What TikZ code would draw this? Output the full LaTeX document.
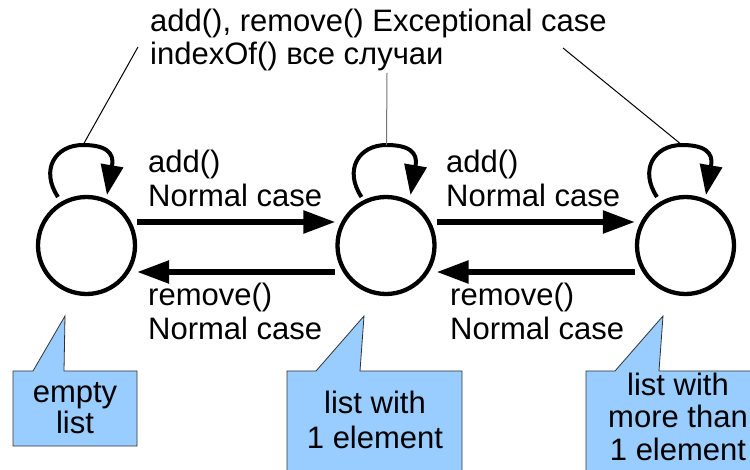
\documentclass[tikz,border=0pt]{standalone}
\usepackage{fontspec}
\setmainfont{Liberation Sans}
\usetikzlibrary{arrows.meta}
\definecolor{callblue}{HTML}{99CCFF}
\newcommand\selfloop[3]{%
  \draw[loopline] ([shift={(-28.5+#2,48.5)}]#1.center)
    .. controls +(-18,27) and +(-28,0) .. ([shift={(-3.5+#2,100.5)}]#1.center) coordinate (#3)
    .. controls +(32,0) and +(6,35) .. ([shift={(20.5+#2,50.5)}]#1.center);}
\begin{document}
\begin{tikzpicture}[x=1pt,y=1pt,
  state/.style={circle,draw,line width=4.3pt,minimum size=97pt,inner sep=0pt},
  arr/.style={line width=5.5pt,-{Triangle[length=32pt,width=22pt]}},
  loopline/.style={line width=4pt,-{Triangle[length=30pt,width=22pt]}},
  lbl/.style={font=\fontsize{31}{34}\selectfont,inner sep=0pt,align=left,anchor=base west},
  calltext/.style={inner sep=0pt,align=center,anchor=base},
  callout/.style={fill=callblue,draw=black!80,line width=0.8pt},
  pointer/.style={line width=1pt}]
\useasboundingbox (0,0) rectangle (750,-470);

% callouts
\draw[callout] (13,-371) -- (33,-371) -- (65,-316) -- (64,-371) -- (137,-371) -- (137,-446) -- (13,-446) -- cycle;
\node[calltext,font=\fontsize{31}{31.5}\selectfont] (t1) at (75,-433.5) {empty\\list};
\draw[callout] (287,-371) -- (316,-371) -- (364,-316) -- (360,-371) -- (462,-371) -- (462,-480) -- (287,-480) -- cycle;
\node[calltext,font=\fontsize{31}{35}\selectfont] (t2) at (375,-448) {list with\\1 element};
\draw[callout] (586,-371) -- (615,-371) -- (663,-316) -- (659,-371) -- (780,-371) -- (780,-480) -- (586,-480) -- cycle;
\node[calltext,font=\fontsize{31}{32.5}\selectfont] (t3) at (678,-460) {list with\\more than\\1 element};

% states
\node[state] (c1) at (86.5,-245.5) {};
\node[state] (c2) at (386,-245.5) {};
\node[state] (c3) at (685.5,-245.5) {};

% transitions
\draw[arr] ([yshift=23.5]c1.east) -- ([yshift=23.5]c2.west);
\draw[arr] ([yshift=-26.5]c2.west) -- ([yshift=-26.5]c1.east);
\draw[arr] ([yshift=23.5]c2.east) -- ([yshift=23.5]c3.west);
\draw[arr] ([yshift=-26.5]c3.west) -- ([yshift=-26.5]c2.east);

% labels
\node[lbl] (l1) at (148,-207) {add()\\Normal case};
\node[lbl] (l2) at (446,-207) {add()\\Normal case};
\node[lbl] (l3) at (148,-340) {remove()\\Normal case};
\node[lbl] (l4) at (450,-340) {remove()\\Normal case};
\node[lbl,font=\fontsize{31}{33}\selectfont] (top) at (150,-65) {add(), remove() Exceptional case\\indexOf() все случаи};

% self loops
\selfloop{c1}{0}{top1}
\selfloop{c2}{4}{top2}
\selfloop{c3}{0}{top3}

% pointers from the text
\coordinate (p1) at (138,-47);
\coordinate (p2) at (387,-73);
\coordinate (p3) at (563,-48);
\draw[pointer] (p1) -- (top1);
\draw[pointer,black!55] (p2) -- (top2);
\draw[pointer] (p3) -- (top3);
\end{tikzpicture}
\end{document}
